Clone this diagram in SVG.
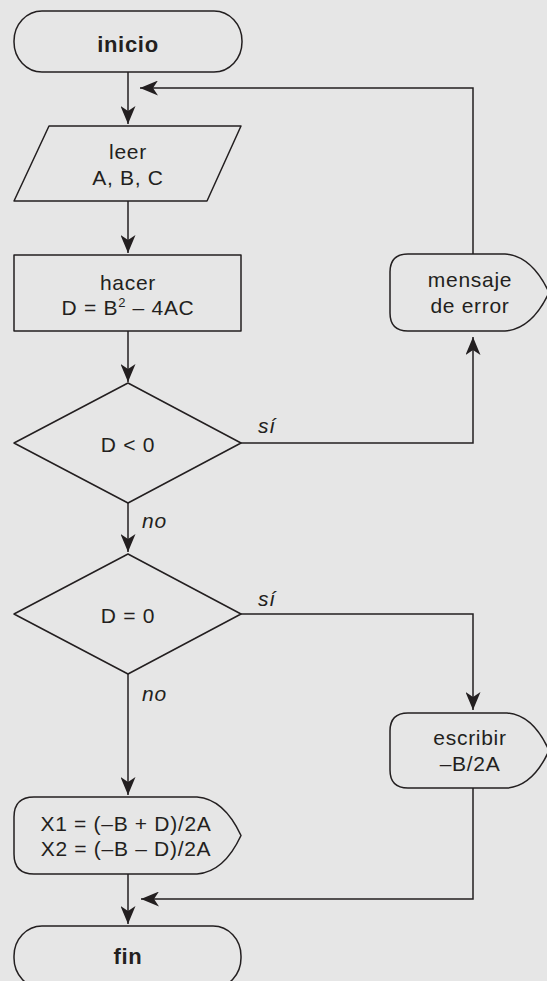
<svg xmlns="http://www.w3.org/2000/svg" width="547" height="981" viewBox="0 0 547 981">
  <style>
    .shape { fill: none; stroke: #231f20; stroke-width: 1.5; stroke-linejoin: round; }
    .link { fill: none; stroke: #231f20; stroke-width: 1.5; }
    text { font-family: "Liberation Sans", Arial, Helvetica, sans-serif; font-size: 21px; fill: #231f20; letter-spacing: 0.7px; }
    .c { text-anchor: middle; }
    .b { font-weight: bold; font-size: 22px; }
    .i { font-style: italic; }
  </style>
  <defs>
    <marker id="arrow" markerUnits="userSpaceOnUse" markerWidth="19" markerHeight="15" refX="18" refY="7.5" orient="auto">
      <path d="M18,7.5 L0,0 L5,7.5 L0,15 Z" fill="#231f20"/>
    </marker>
  </defs>

  <rect width="547" height="981" fill="#e6e6e6"/>

  <!-- connectors -->
  <g id="connectors">
    <path class="link" d="M128,72 V124" marker-end="url(#arrow)"/>
    <path class="link" d="M128,201 V253" marker-end="url(#arrow)"/>
    <path class="link" d="M128,331 V382" marker-end="url(#arrow)"/>
    <path class="link" d="M128,503 V552" marker-end="url(#arrow)"/>
    <path class="link" d="M128,674 V795" marker-end="url(#arrow)"/>
    <path class="link" d="M128,874 V924" marker-end="url(#arrow)"/>
    <path class="link" d="M241,443 H473 V337" marker-end="url(#arrow)"/>
    <path class="link" d="M473,254 V88 H140" marker-end="url(#arrow)"/>
    <path class="link" d="M241,614 H473 V710" marker-end="url(#arrow)"/>
    <path class="link" d="M473,788 V899 H141" marker-end="url(#arrow)"/>
    <text class="i" x="258" y="433">sí</text>
    <text class="i" x="142" y="528">no</text>
    <text class="i" x="258" y="606">sí</text>
    <text class="i" x="142" y="701">no</text>
  </g>

  <!-- start terminator -->
  <g id="inicio">
    <rect class="shape" x="14" y="11" width="228" height="61" rx="28" ry="30"/>
    <text class="c b" x="128" y="52">inicio</text>
  </g>

  <!-- input -->
  <g id="leer">
    <polygon class="shape" points="49,126 241,126 207,201 14,201"/>
    <text class="c" x="128" y="159">leer</text>
    <text class="c" x="128" y="185">A, B, C</text>
  </g>

  <!-- process -->
  <g id="hacer">
    <rect class="shape" x="14" y="255" width="227" height="76"/>
    <text class="c" x="128" y="290">hacer</text>
    <text class="c" x="128" y="315">D = B<tspan font-size="13" dy="-8">2</tspan><tspan dy="8"> – 4AC</tspan></text>
  </g>

  <!-- decision D < 0 -->
  <g id="decision-neg">
    <polygon class="shape" points="128,383 241,443 128,503 14,443"/>
    <text class="c" x="128" y="452">D &lt; 0</text>
  </g>

  <!-- error display -->
  <g id="mensaje">
    <path class="shape" d="M408,254 H505 Q532,256 549,292.5 Q532,329 505,331 H408 Q390,331 390,313 V272 Q390,254 408,254 Z"/>
    <text class="c" x="470" y="287">mensaje</text>
    <text class="c" x="470" y="313">de error</text>
  </g>

  <!-- decision D = 0 -->
  <g id="decision-zero">
    <polygon class="shape" points="128,554 241,614 128,674 14,614"/>
    <text class="c" x="128" y="623">D = 0</text>
  </g>

  <!-- single root display -->
  <g id="escribir">
    <path class="shape" d="M408,713 H507 Q533,715 549,750.5 Q533,786 507,788 H408 Q390,788 390,770 V731 Q390,713 408,713 Z"/>
    <text class="c" x="470" y="745">escribir</text>
    <text class="c" x="470" y="771">–B/2A</text>
  </g>

  <!-- two roots display -->
  <g id="raices">
    <path class="shape" d="M34,797 H197 Q224,799 241,835.5 Q224,872 197,874 H34 Q14,874 14,854 V817 Q14,797 34,797 Z"/>
    <text class="c" x="126" y="831">X1 = (–B + D)/2A</text>
    <text class="c" x="126" y="856">X2 = (–B – D)/2A</text>
  </g>

  <!-- end terminator -->
  <g id="fin">
    <rect class="shape" x="14" y="926" width="227" height="62" rx="28" ry="30"/>
    <text class="c b" x="128" y="964">fin</text>
  </g>
</svg>
